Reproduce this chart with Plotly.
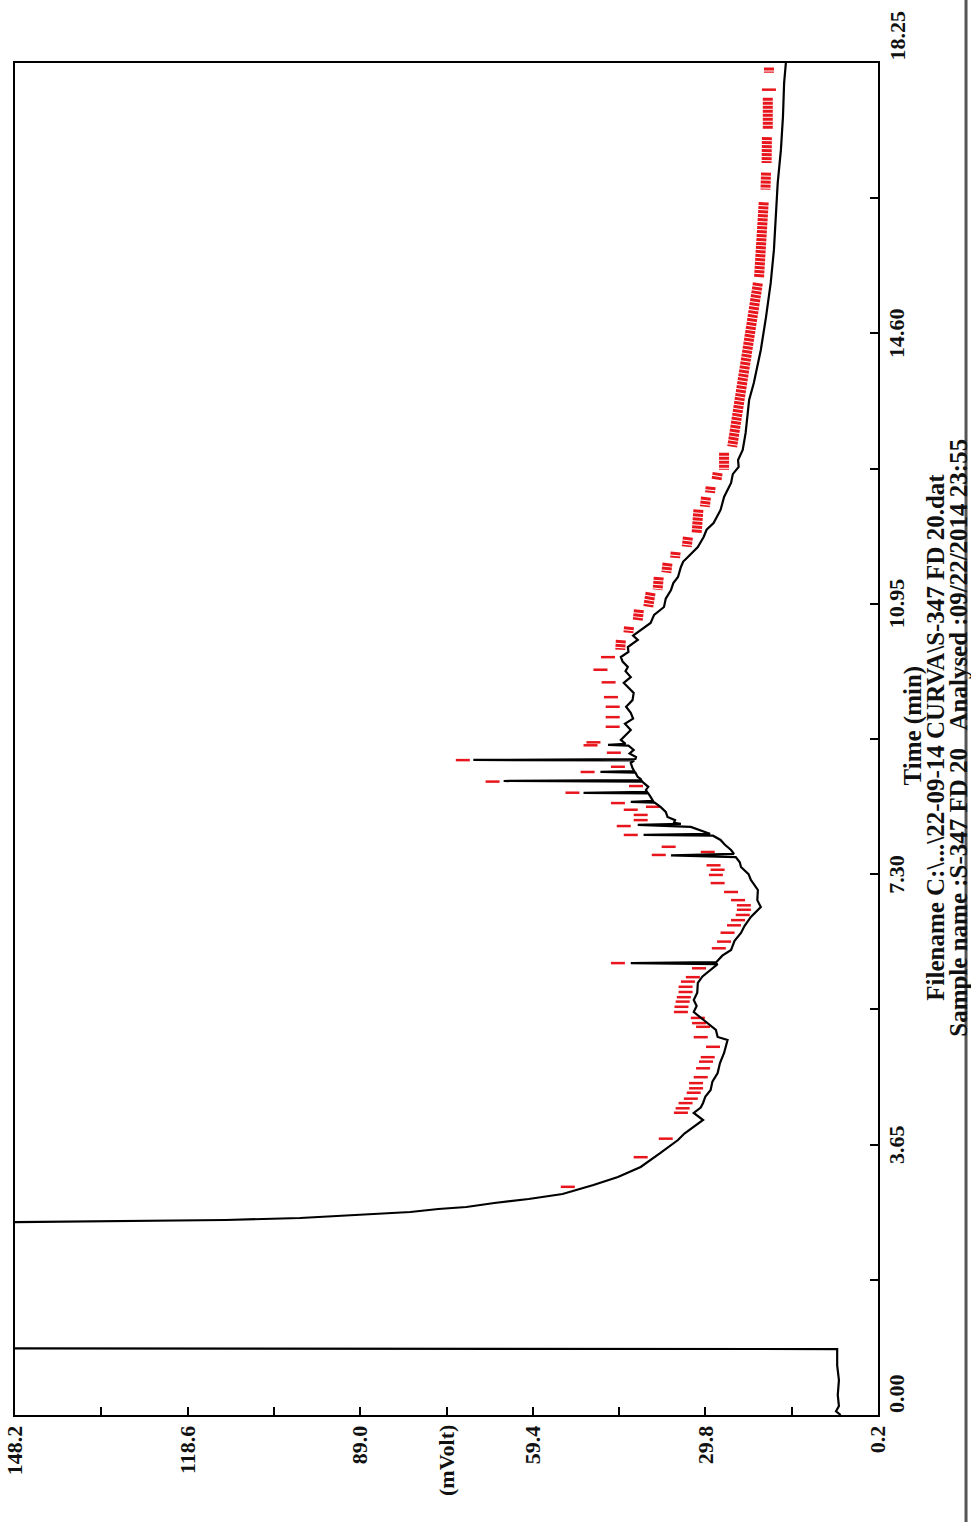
import plotly.graph_objects as go

# ---------------- data ----------------
# mVolt axis ticks
mv_ticks = [148.2, 118.6, 89.0, 59.4, 29.8, 0.2]
mv_ticklabels = ["148.2", "118.6", "89.0", "59.4", "29.8", "0.2"]
mv_minor = [133.4, 103.8, 74.2, 44.6, 15.0]
# time axis ticks (min)
time_ticks = [0.00, 3.65, 7.30, 10.95, 14.60, 18.25]
time_ticklabels = ["0.00", "3.65", "7.30", "10.95", "14.60", "18.25"]
time_minor = [1.825, 5.475, 9.125, 12.775, 16.425]

# chromatogram (black trace): time (min) and signal (mVolt)
sig_time = [0.00, 0.05, 0.12, 0.27, 0.47, 0.67, 0.89, 0.90, 2.60, 2.605, 2.619, 2.632,
            2.659, 2.713, 2.740, 2.781, 2.808, 2.862, 2.916, 2.983, 3.105, 3.213, 3.348,
            3.537, 3.712, 3.800, 3.888, 3.982, 4.077, 4.150, 4.212, 4.300, 4.387, 4.500,
            4.617, 4.750, 4.887, 5.062, 5.103,
            5.197, 5.332, 5.440, 5.520, 5.602, 5.700, 5.832, 5.920, 6.007, 6.085, 6.100,
            6.115, 6.200, 6.277, 6.400, 6.507, 6.600,
            6.723, 6.858, 6.950, 7.087, 7.222, 7.300, 7.397, 7.460, 7.530, 7.555, 7.575,
            7.627, 7.700, 7.762, 7.820,
            7.830, 7.845, 7.857, 7.900, 7.938, 7.965, 7.980, 7.992, 8.030, 8.073, 8.140,
            8.208, 8.265, 8.275,
            8.290, 8.343, 8.390, 8.397, 8.410, 8.437, 8.480, 8.532, 8.550, 8.558, 8.570, 8.586,
            8.613, 8.670, 8.680, 8.692, 8.734, 8.801, 8.835, 8.842, 8.855, 8.883, 8.930, 8.977,
            9.035, 9.045, 9.060, 9.112, 9.200, 9.247, 9.330, 9.400, 9.477, 9.560, 9.650,
            9.747, 9.827, 9.882, 9.960, 10.040, 10.097, 10.170, 10.232, 10.300, 10.367,
            10.462, 10.520, 10.597, 10.691, 10.800, 10.907, 11.020, 11.137, 11.230, 11.312,
            11.447, 11.520, 11.582, 11.717, 11.852, 11.950, 12.041, 12.217, 12.392, 12.581,
            12.700, 12.797, 12.892, 13.027,
            13.256, 13.472, 13.701, 13.931, 14.376, 14.822, 15.281, 15.727, 16.172, 16.631,
            17.077, 17.522, 17.981, 18.25]
sig_mv = [6.6, 7.4, 6.9, 7.1, 6.9, 7.2, 7.2, 152.0, 152.0, 145.5, 133.6, 112.1,
          99.3, 86.2, 80.4, 75.6, 70.8, 66.0, 60.1, 54.3, 49.0, 44.8, 40.9,
          37.5, 34.5, 33.4, 31.8, 30.2, 31.8, 30.6, 30.2, 29.8, 28.9, 28.6,
          27.7, 27.3, 26.6, 26.0, 27.7,
          28.0, 30.1, 31.8, 31.3, 31.8, 31.2, 31.1, 30.3, 28.9, 27.7, 42.6,
          27.9, 26.9, 25.4, 24.8, 23.7, 23.1,
          22.0, 20.3, 20.9, 20.8, 22.0, 22.4, 23.7, 23.9, 24.6, 35.7, 24.9,
          25.4, 26.5, 27.2, 28.5,
          40.4, 29.0, 29.4, 31.0, 32.3, 41.4, 34.0, 35.2, 35.0, 36.3, 36.6,
          37.5, 38.5, 42.6,
          38.8, 39.2, 39.6, 50.7, 39.8, 40.0, 39.6, 40.4, 40.6, 64.4, 40.8, 40.9,
          41.4, 41.8, 47.8, 42.0, 42.3, 42.6, 42.0, 69.6, 41.8, 41.7, 42.8, 42.1,
          43.0, 46.5, 43.5, 44.3, 43.2, 42.6, 43.6, 42.2, 42.6, 43.4, 42.3,
          42.1, 43.1, 43.8, 42.6, 43.5, 43.1, 44.0, 44.3, 43.0, 43.1,
          41.4, 42.2, 40.9, 39.2, 38.6, 36.9, 36.6, 35.7, 35.3, 34.5,
          34.0, 33.6, 32.8, 31.1, 30.1, 29.6, 28.4, 27.2, 26.6, 25.4,
          25.1, 24.1, 24.2, 23.4,
          22.9, 22.6, 22.3, 21.5, 20.3, 19.4, 18.6, 18.05, 17.7, 17.4,
          16.85, 16.5, 16.3, 16.0]

# red integration marks: dense runs (time, signal)
band_time = [[18.19, 18.12], [17.78, 17.35], [17.25, 16.90], [16.77, 16.54],
             [16.37, 15.86, 15.36], [15.28, 14.82, 14.38, 13.93, 13.47, 13.07],
             [12.99, 12.76], [12.72, 12.62], [12.53, 12.45], [12.39, 12.26],
             [12.22, 11.91], [11.85, 11.72], [11.65, 11.57], [11.50, 11.37],
             [11.31, 11.14], [11.10, 10.91], [10.87, 10.73], [10.64, 10.56],
             [10.46, 10.33]]
band_mv = [[18.9, 18.9], [19.1, 19.1], [19.25, 19.3], [19.4, 19.5],
           [19.8, 20.2, 20.6], [20.8, 21.7, 22.6, 23.6, 24.3, 25.2],
           [26.6, 26.6], [27.7, 27.9], [28.9, 29.0], [29.7, 29.9],
           [31.0, 31.3], [32.8, 33.0], [34.9, 35.0], [36.3, 36.5],
           [37.8, 38.0], [39.2, 39.6], [41.2, 41.4], [42.9, 43.0],
           [44.3, 44.4]]
# red integration marks: isolated
mark_time = [17.89, 10.23, 10.06, 9.89, 9.69, 9.56, 9.42, 9.29, 9.08, 9.04, 8.94, 8.84,
             8.75, 8.68, 8.55, 8.49, 8.40, 8.26, 8.21, 8.17, 8.10, 8.03, 7.95, 7.83,
             7.67, 7.60, 7.56, 7.42, 7.36, 7.29, 7.18, 7.06, 6.95, 6.88, 6.82, 6.75,
             6.68, 6.61, 6.51, 6.39, 6.30, 6.10, 6.03, 5.91, 5.85, 5.78, 5.71, 5.64,
             5.58, 5.51, 5.44, 5.36, 5.29, 5.24, 5.10, 4.97, 4.83, 4.77, 4.68, 4.56,
             4.48, 4.41, 4.35, 4.27, 4.21, 4.14, 4.08, 3.73, 3.48, 3.08]
mark_mv = [18.9, 46.5, 47.8, 46.4, 46.0, 45.7, 45.7, 45.7, 49.0, 49.5, 45.5, 71.4,
           44.8, 50.0, 66.3, 41.7, 52.6, 44.8, 38.8, 42.6, 40.9, 40.9, 43.8, 42.6,
           36.1, 29.4, 37.8, 28.4, 27.7, 28.0, 27.7, 25.4, 24.2, 23.2, 23.2, 23.4,
           24.2, 24.9, 26.0, 26.6, 27.5, 44.8, 30.9, 31.95, 32.8, 33.2, 33.2, 33.5,
           33.7, 33.9, 34.0, 31.1, 30.9, 30.2, 30.6, 28.5, 29.4, 29.7, 30.2, 30.6,
           31.4, 31.4, 31.8, 32.3, 33.2, 33.7, 34.0, 36.6, 40.9, 53.4]

title_lines = ["Time (min)",
               "Filename C:\\...\\22-09-14 CURVA\\S-347 FD 20.dat",
               "Sample name :S-347 FD 20   Analysed :09/22/2014 23:55"]
mv_title = "(mVolt)"

# ---------------- figure ----------------
FONT = "Liberation Serif"
RED = "#e8161c"
fig = go.Figure()

bx, by = [], []
for ts, vs in zip(band_time, band_mv):
    bx += vs + [None]
    by += ts + [None]
fig.add_trace(go.Scatter(x=bx, y=by, mode="lines",
                         line=dict(color=RED, width=10, dash="3px,1px"),
                         hoverinfo="skip", showlegend=False))
fig.add_trace(go.Scatter(x=mark_mv, y=mark_time, mode="markers",
                         marker=dict(symbol="line-ew", size=10,
                                     line=dict(color=RED, width=2.5)),
                         showlegend=False))
fig.add_trace(go.Scatter(x=sig_mv, y=sig_time, mode="lines",
                         line=dict(color="black", width=2.2),
                         showlegend=False))

tickfont = dict(family=FONT, size=22, color="#111111", weight="bold")

fig.update_xaxes(range=[mv_ticks[0], mv_ticks[-1]], tickmode="array",
                 tickvals=mv_ticks, ticktext=mv_ticklabels, tickangle=-90,
                 ticks="inside", ticklen=8, tickwidth=1.5, tickcolor="black",
                 showline=True, linecolor="black", linewidth=2, mirror=True,
                 showgrid=False, zeroline=False, tickfont=tickfont, automargin=False,
                 minor=dict(tickvals=mv_minor, ticks="inside", ticklen=8,
                            tickwidth=1.5, tickcolor="black", showgrid=False))
fig.update_yaxes(range=[time_ticks[0], time_ticks[-1]], side="right",
                 tickmode="array", tickvals=time_ticks, showticklabels=False,
                 ticks="inside", ticklen=8, tickwidth=1.5, tickcolor="black",
                 showline=True, linecolor="black", linewidth=2, mirror=True,
                 showgrid=False, zeroline=False, automargin=False,
                 minor=dict(tickvals=time_minor, ticks="inside", ticklen=8,
                            tickwidth=1.5, tickcolor="black", showgrid=False))

annotations = []
n_t = len(time_ticks)
for i, (v, lab) in enumerate(zip(time_ticks, time_ticklabels)):
    ya = "bottom" if i in (0, n_t - 1) else "middle"
    annotations.append(dict(x=1, xref="paper", y=v, yref="y", text=lab,
                            textangle=-90, xanchor="left", yanchor=ya,
                            xshift=4, showarrow=False, font=tickfont))
annotations.append(dict(x=mv_minor[2], xref="x", y=0, yref="paper", text=mv_title,
                        textangle=-90, xanchor="center", yanchor="top", yshift=-8,
                        showarrow=False, font=tickfont))
for xp, yp, line in zip([1.0406, 1.0673, 1.0940], [0.510, 0.501, 0.501], title_lines):
    annotations.append(dict(x=xp, xref="paper", y=yp, yref="paper", text=line,
                            textangle=-90, xanchor="center", yanchor="middle",
                            showarrow=False, font=dict(family=FONT, size=25,
                                                       color="#111111", weight="bold")))

fig.update_layout(width=971, height=1522, margin=dict(l=15, r=93, t=63, b=107),
                  plot_bgcolor="white", paper_bgcolor="white",
                  annotations=annotations, showlegend=False,
                  shapes=[dict(type="line", xref="paper", yref="paper",
                               x0=1.102, x1=1.102, y0=-0.08, y1=1.05,
                               line=dict(color="#555555", width=3))])

fig.write_html("out.html")
